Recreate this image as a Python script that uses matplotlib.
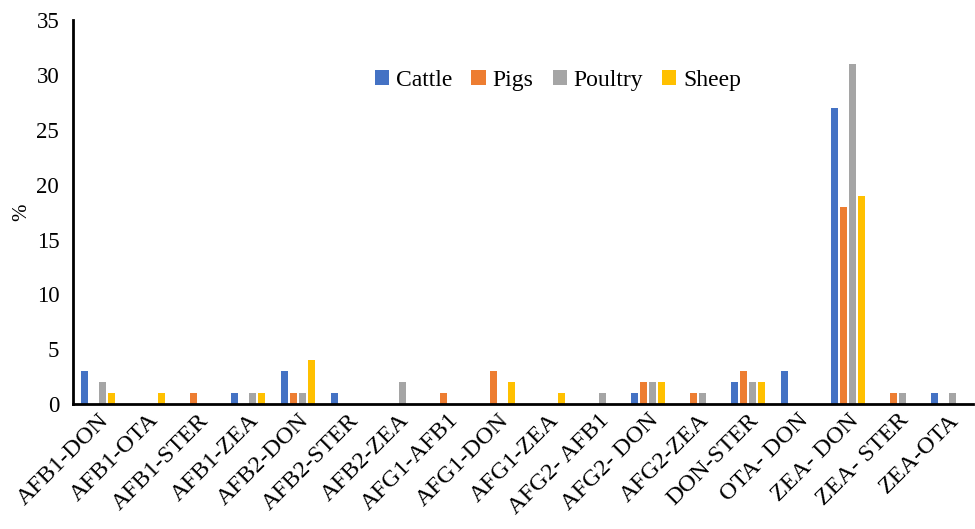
import matplotlib
matplotlib.use("Agg")
import matplotlib.pyplot as plt
import numpy as np

# Mycotoxin co-occurrence combinations
categories = ["AFB1-DON", "AFB1-OTA", "AFB1-STER", "AFB1-ZEA", "AFB2-DON",
              "AFB2-STER", "AFB2-ZEA", "AFG1-AFB1", "AFG1-DON", "AFG1-ZEA",
              "AFG2- AFB1", "AFG2- DON", "AFG2-ZEA", "DON-STER", "OTA- DON",
              "ZEA- DON", "ZEA- STER", "ZEA-OTA"]

cattle = [3, 0, 0, 1, 3, 1, 0, 0, 0, 0, 0, 1, 0, 2, 3, 27, 0, 1]
pigs = [0, 0, 1, 0, 1, 0, 0, 1, 3, 0, 0, 2, 1, 3, 0, 18, 1, 0]
poultry = [2, 0, 0, 1, 1, 0, 2, 0, 0, 0, 1, 2, 1, 2, 0, 31, 1, 1]
sheep = [1, 1, 0, 1, 4, 0, 0, 0, 2, 1, 0, 2, 0, 2, 0, 19, 0, 0]

series = [("Cattle", cattle, "#4472C4"),
          ("Pigs", pigs, "#ED7D31"),
          ("Poultry", poultry, "#A5A5A5"),
          ("Sheep", sheep, "#FFC000")]

plt.rcParams['font.family'] = ['Liberation Serif', 'DejaVu Serif']

fig = plt.figure(figsize=(9.75, 5.29), dpi=100)
ax = fig.add_axes([0.075, 0.236, 0.923, 0.726])

x = np.arange(len(categories))
step = 0.18
width = 0.14
for i, (name, vals, col) in enumerate(series):
    ax.bar(x + (i - 1.5) * step, vals, width, color=col, label=name)

ax.set_xlim(-0.5, len(categories) - 0.5)
ax.set_ylim(0, 35)
ax.set_yticks(range(0, 36, 5))
ax.set_xticks(x)
ax.set_xticklabels(categories, rotation=45, ha="right", rotation_mode="anchor", fontsize=17.5)
ax.tick_params(axis="y", labelsize=16.5, length=0, pad=10)
ax.tick_params(axis="x", length=0, pad=4)
ax.set_ylabel("%", fontsize=15, labelpad=4)

for s in ["top", "right"]:
    ax.spines[s].set_visible(False)
for s in ["left", "bottom"]:
    ax.spines[s].set_linewidth(2)
    ax.spines[s].set_color("black")

ax.legend(loc="upper center", bbox_to_anchor=(0.539, 0.925), ncol=4, frameon=False,
          fontsize=17, handlelength=0.6, handleheight=0.6, handletextpad=0.3,
          columnspacing=0.8)

fig.savefig("out.png", dpi=100)
